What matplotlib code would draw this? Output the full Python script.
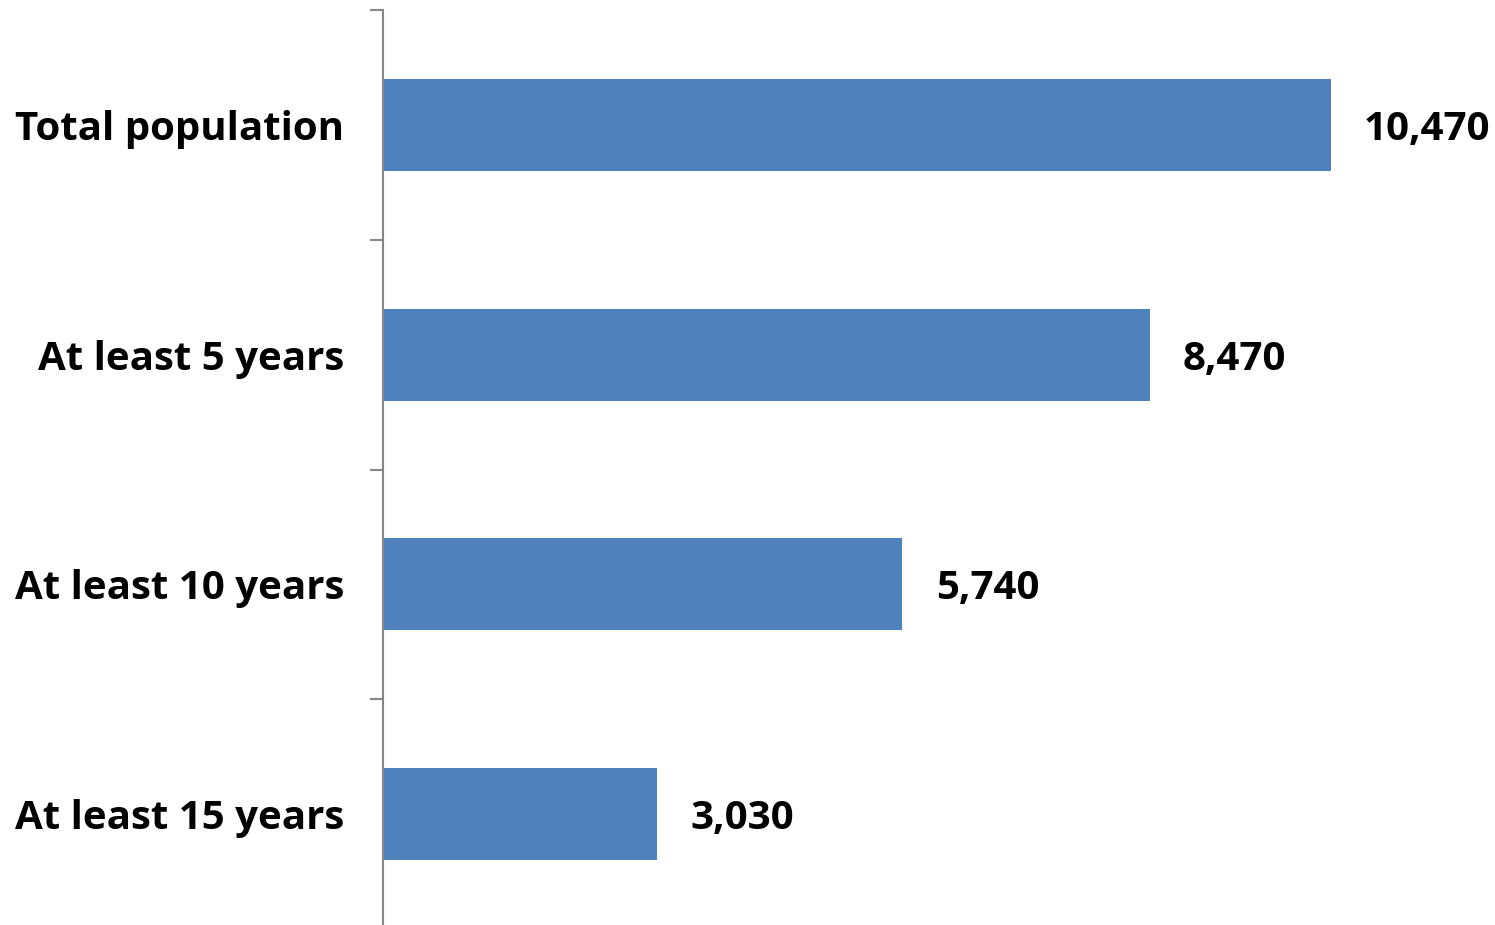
import matplotlib.pyplot as plt
import numpy as np

categories = ["Total population", "At least 5 years", "At least 10 years", "At least 15 years"]
values = [10470, 8470, 5740, 3030]
value_labels = ["10,470", "8,470", "5,740", "3,030"]

bar_color = "#4F81BD"
axis_color = "#868686"
font = ["Open Sans", "DejaVu Sans"]

fig = plt.figure(figsize=(14.95, 9.25), dpi=100, facecolor="white")
# axes: left edge at the vertical axis line, top at first tick
ax = fig.add_axes([383 / 1495, -4 / 925, 1086 / 1495, 919 / 925])

y = np.arange(len(categories))
ax.barh(y, values, height=0.4, color=bar_color, edgecolor="none")
ax.set_ylim(len(categories) - 0.5, -0.5)
ax.set_xlim(0, 12000)

for yi, v, lab in zip(y, values, value_labels):
    ax.annotate(lab, xy=(v, yi), xytext=(24, 0), textcoords="offset points",
                ha="left", va="center_baseline", fontsize=29, fontweight="bold",
                family=font, color="black")

for s in ["top", "right", "bottom"]:
    ax.spines[s].set_visible(False)
ax.spines["left"].set_color(axis_color)
ax.spines["left"].set_linewidth(1.5)

ax.set_xticks([])
ax.set_yticks(y)
ax.set_yticklabels(categories, fontsize=29, fontweight="bold", family=font)
for t in ax.get_yticklabels():
    t.set_verticalalignment("center_baseline")
ax.tick_params(axis="y", which="major", length=0, pad=28)
ax.set_yticks(np.arange(-0.5, len(categories), 1.0), minor=True)
ax.tick_params(axis="y", which="minor", length=9.5, width=1.5, color=axis_color)

fig.savefig("out.png", dpi=100, facecolor="white")
